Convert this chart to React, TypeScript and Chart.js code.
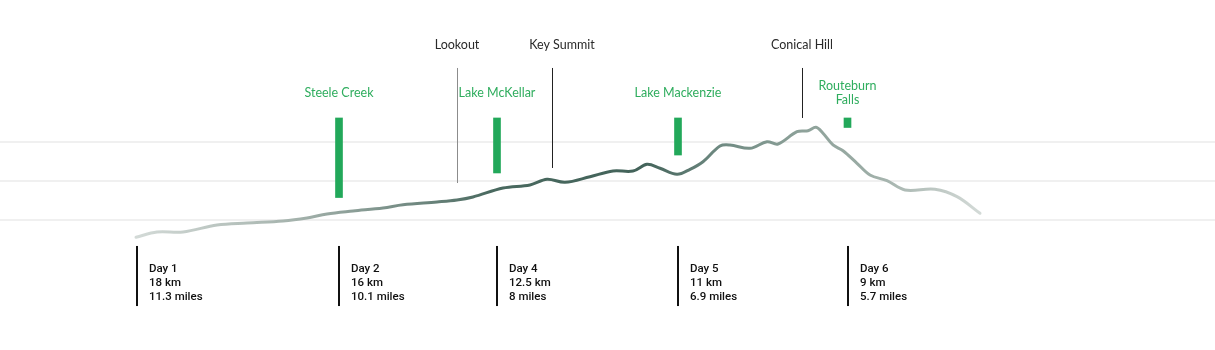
import React, { useEffect, useRef } from 'react';
import { Chart, registerables } from 'chart.js';

Chart.register(...registerables);

// Track profile: distance along track (arbitrary units) and elevation (m)
const trackDistance = [13.6, 15.7, 18.3, 21.7, 24.7, 28.3, 30.7, 32.7, 35.3, 38.3, 40.3, 43.7, 45.7, 47.3, 50.3, 53.0, 54.7, 56.5, 59.0, 61.3, 63.3, 64.7, 66.0, 67.7, 69.0, 70.3, 72.0, 73.0, 75.0, 76.7, 77.8, 79.7, 80.8, 81.6, 82.3, 83.3, 84.3, 85.7, 87.0, 88.7, 90.5, 93.5, 95.7, 98.0];
const trackElevation = [278, 346, 346, 436, 462, 487, 526, 577, 615, 654, 696, 731, 756, 795, 910, 949, 1022, 983, 1055, 1128, 1128, 1214, 1163, 1086, 1150, 1247, 1449, 1462, 1419, 1504, 1474, 1632, 1645, 1688, 1612, 1462, 1388, 1227, 1077, 1004, 885, 894, 799, 586];

// Huts (green bars)
const hutNames = [['Steele Creek'], ['Lake McKellar'], ['Lake Mackenzie'], ['Routeburn', 'Falls']];
const hutDistance = [33.9, 49.7, 67.8, 84.75];
const hutTop = [1808, 1808, 1808, 1808];
const hutBottom = [788, 1103, 1333, 1686];

// Peaks / lookouts
const peakNames = ['Lookout', 'Key Summit', 'Conical Hill'];
const peakDistance = [45.7, 55.2, 80.2];
const peakLabelDistance = [45.7, 56.2, 80.2];
const peakLineBottom = [974, 1167, 1808];

// Day stages
const dayNames = ['Day 1', 'Day 2', 'Day 4', 'Day 5', 'Day 6'];
const dayKm = ['18 km', '16 km', '12.5 km', '11 km', '9 km'];
const dayMiles = ['11.3 miles', '10.1 miles', '8 miles', '6.9 miles', '5.7 miles'];
const dayStart = [13.7, 33.9, 49.7, 67.8, 84.8];

const gridElevations = [500, 1000, 1500];

const lineStops: [number, string][] = [
  [0, '#d3dad7'],
  [0.19, '#a4b2ac'],
  [0.34, '#6d867e'],
  [0.42, '#49695f'],
  [0.6, '#43635a'],
  [0.69, '#6e8981'],
  [0.79, '#8ea29a'],
  [0.86, '#9aaba4'],
  [0.96, '#c3ccc8'],
  [1, '#d3dad7'],
];

const annotationPlugin = {
  id: 'trackAnnotations',
  afterDatasetsDraw(chart: any) {
    const ctx = chart.ctx as CanvasRenderingContext2D;
    const xs = chart.scales.x;
    const ys = chart.scales.y;
    ctx.save();

    // Peak lines and labels
    const peakTop = ys.getPixelForValue(2449);
    const peakLabelY = ys.getPixelForValue(2744);
    peakNames.forEach((name, i) => {
      const x = Math.round(xs.getPixelForValue(peakDistance[i])) + 0.5;
      ctx.strokeStyle = i === 0 ? '#8c8c8c' : '#222222';
      ctx.lineWidth = 1;
      ctx.beginPath();
      ctx.moveTo(x, peakTop);
      ctx.lineTo(x, ys.getPixelForValue(peakLineBottom[i]));
      ctx.stroke();
      ctx.fillStyle = '#2a2a2a';
      ctx.font = '400 12.5px Lato';
      ctx.textAlign = 'center';
      ctx.textBaseline = 'middle';
      ctx.fillText(name, xs.getPixelForValue(peakLabelDistance[i]), peakLabelY);
    });

    // Hut labels
    const hutLabelY = ys.getPixelForValue(2128);
    hutNames.forEach((lines, i) => {
      const x = xs.getPixelForValue(hutDistance[i]);
      ctx.fillStyle = '#2fad5e';
      ctx.font = '400 12.5px Lato';
      ctx.textAlign = 'center';
      ctx.textBaseline = 'middle';
      const lh = 14;
      const y0 = hutLabelY - ((lines.length - 1) * lh) / 2;
      lines.forEach((t, j) => ctx.fillText(t, x, y0 + j * lh));
    });

    // Day markers
    const dTop = ys.getPixelForValue(167);
    const dBottom = ys.getPixelForValue(-603);
    dayNames.forEach((name, i) => {
      const x = xs.getPixelForValue(dayStart[i]);
      ctx.fillStyle = '#111111';
      ctx.fillRect(Math.round(x) - 1, dTop, 2, dBottom - dTop);
      ctx.font = '500 11.5px Roboto';
      ctx.textAlign = 'left';
      ctx.textBaseline = 'middle';
      ctx.fillStyle = '#111111';
      const tx = x + 12;
      ctx.fillText(name, tx, ys.getPixelForValue(-128));
      ctx.fillText(dayKm[i], tx, ys.getPixelForValue(-308));
      ctx.fillText(dayMiles[i], tx, ys.getPixelForValue(-487));
    });

    ctx.restore();
  },
};

export default function App() {
  const ref = useRef<HTMLCanvasElement>(null);

  useEffect(() => {
    if (!ref.current) return;
    const chart = new Chart(ref.current, {
      type: 'line',
      data: {
        datasets: [
          {
            type: 'line',
            data: trackDistance.map((d, i) => ({ x: d, y: trackElevation[i] })),
            borderColor: (c: any) => {
              const ch = c.chart;
              if (!ch.chartArea || !ch.scales.x) return lineStops[0][1];
              const x0 = ch.scales.x.getPixelForValue(trackDistance[0]);
              const x1 = ch.scales.x.getPixelForValue(trackDistance[trackDistance.length - 1]);
              const g = ch.ctx.createLinearGradient(x0, 0, x1, 0);
              lineStops.forEach(([o, col]) => g.addColorStop(o, col));
              return g;
            },
            borderWidth: 3,
            borderCapStyle: 'round',
            borderJoinStyle: 'round',
            tension: 0.35,
            pointRadius: 0,
            fill: false,
          } as any,
          {
            type: 'bar',
            data: hutDistance.map((d, i) => ({ x: d, y: [hutBottom[i], hutTop[i]] })),
            backgroundColor: '#22a85a',
            borderWidth: 0,
            barThickness: 7,
          } as any,
        ],
      },
      options: {
        animation: false,
        responsive: false,
        layout: { padding: 0 },
        plugins: { legend: { display: false }, tooltip: { enabled: false } },
        scales: {
          x: { type: 'linear', min: 0, max: 121.5, display: false, offset: false },
          y: {
            type: 'linear',
            min: -1166.7,
            max: 3320.5,
            display: true,
            border: { display: false },
            ticks: { display: false },
            grid: { color: '#f0f0f0', lineWidth: 2, drawTicks: false },
            afterBuildTicks: (scale: any) => {
              scale.ticks = gridElevations.map((v) => ({ value: v }));
            },
          },
        },
      },
      plugins: [annotationPlugin],
    });
    return () => chart.destroy();
  }, []);

  return (
    <div style={{ position: 'absolute', left: 0, top: 0, width: 1215, height: 350, background: '#ffffff' }}>
      <canvas ref={ref} width={1215} height={350} style={{ display: 'block' }} />
    </div>
  );
}
